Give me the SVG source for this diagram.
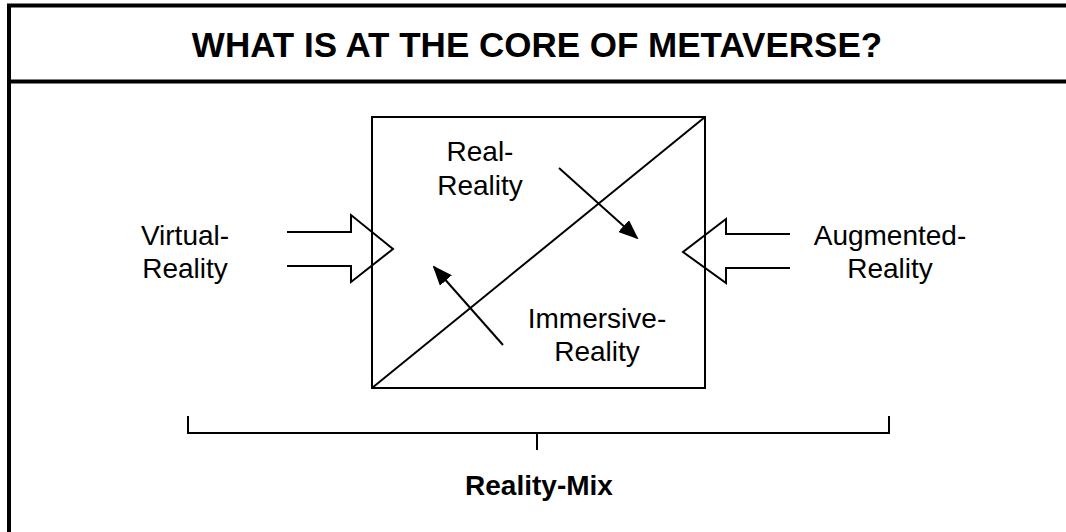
<svg xmlns="http://www.w3.org/2000/svg" width="1066" height="532" viewBox="0 0 1066 532">
<style>
.frame{stroke:#000;stroke-width:4;fill:none}
.ln{stroke:#000;stroke-width:2;fill:none}
.t{font-family:"Liberation Sans",Arial,sans-serif;font-size:28px;fill:#000;text-anchor:middle}
.b{font-weight:bold}
</style>
<defs>
<marker id="ah" viewBox="0 0 20 16" refX="18" refY="8" markerWidth="20" markerHeight="16" markerUnits="userSpaceOnUse" orient="auto">
<path d="M0,0 L20,8 L0,16 z" fill="#000"/>
</marker>
</defs>
<rect width="1066" height="532" fill="#fff"/>
<g id="frame">
<line class="frame" x1="9" y1="4" x2="9" y2="532"/>
<line class="frame" x1="7" y1="5.5" x2="1066" y2="5.5"/>
<line class="frame" x1="7" y1="81.5" x2="1066" y2="81.5"/>
</g>
<g id="title">
<text class="t b" x="537" y="57" style="font-size:35px">WHAT IS AT THE CORE OF METAVERSE?</text>
</g>
<g id="core-box">
<rect class="ln" x="372" y="117" width="333" height="271"/>
<line class="ln" x1="372" y1="388" x2="705" y2="117"/>
</g>
<g id="real-reality">
<text class="t" x="480" y="161">Real-</text>
<text class="t" x="480" y="195">Reality</text>
</g>
<g id="immersive-reality">
<text class="t" x="597" y="328">Immersive-</text>
<text class="t" x="597" y="361">Reality</text>
</g>
<g id="virtual-reality">
<text class="t" x="185" y="245">Virtual-</text>
<text class="t" x="185" y="278">Reality</text>
</g>
<g id="augmented-reality">
<text class="t" x="890" y="245">Augmented-</text>
<text class="t" x="890" y="278">Reality</text>
</g>
<g id="reality-mix">
<text class="t b" x="539" y="495">Reality-Mix</text>
</g>
<g id="connectors">
<polyline class="ln" points="287,232 351,232 351,215 393,249 351,282 351,266 287,266"/>
<polyline class="ln" points="790,234 726,234 726,219 683,252 726,283 726,268 790,268"/>
<line class="ln" x1="559" y1="168" x2="637" y2="238" marker-end="url(#ah)"/>
<line class="ln" x1="503" y1="345" x2="434" y2="267" marker-end="url(#ah)"/>
<polyline class="ln" points="188,416 188,433 889,433 889,416"/>
<line class="ln" x1="537" y1="433" x2="537" y2="450"/>
</g>
</svg>
